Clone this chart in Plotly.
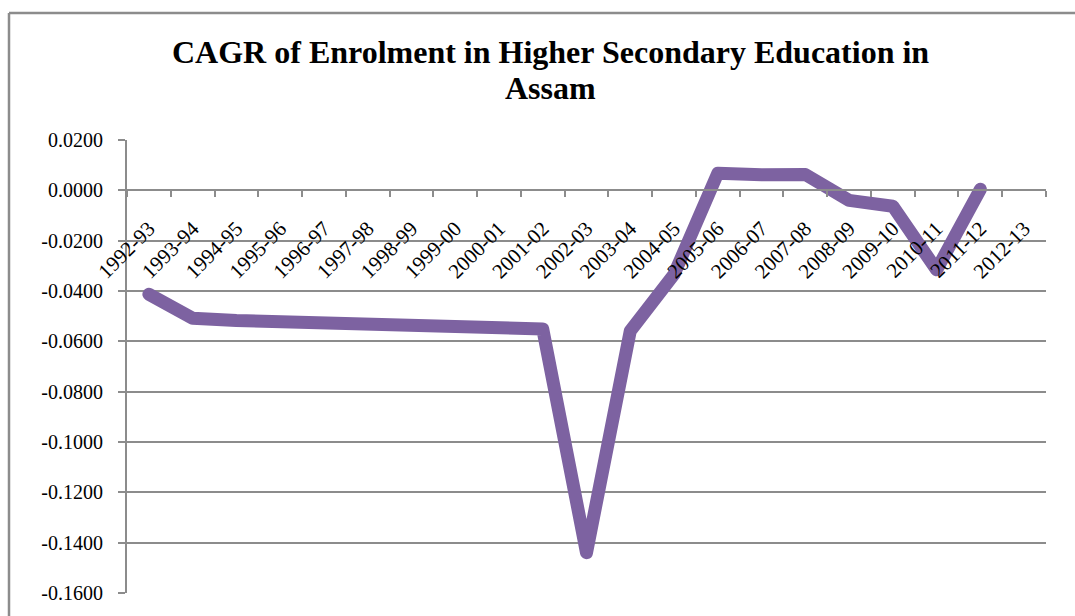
import plotly.graph_objects as go

years = ["1992-93", "1993-94", "1994-95", "1995-96", "1996-97", "1997-98", "1998-99",
         "1999-00", "2000-01", "2001-02", "2002-03", "2003-04", "2004-05", "2005-06",
         "2006-07", "2007-08", "2008-09", "2009-10", "2010-11", "2011-12", "2012-13"]
cagr = [-0.0413, -0.0508, -0.0517, -0.0523, -0.0528, -0.0533, -0.0536,
        -0.0540, -0.0545, -0.0551, -0.1440, -0.0559, -0.0334, 0.0068,
        0.0062, 0.0063, -0.0040, -0.0063, -0.0316, 0.0004, None]
y_tick_vals = [0.02, 0.0, -0.02, -0.04, -0.06, -0.08, -0.10, -0.12, -0.14, -0.16]
y_tick_text = ["0.0200", "0.0000", "-0.0200", "-0.0400", "-0.0600", "-0.0800",
               "-0.1000", "-0.1200", "-0.1400", "-0.1600"]
title_lines = ["CAGR of Enrolment in Higher Secondary Education in", "Assam"]

grid = "#8c8c8c"
serif = "Liberation Serif, Times New Roman, serif"

# plot area in pixels (for placing decorations in paper coordinates)
PL, PR, PT, PB = 127, 1046, 140, 595
def px_x(x):
    return (x - PL) / (PR - PL)
def px_y(y):
    return (PB - y) / (PB - PT)

y_min, y_max = -0.16, 0.02
zero_pos = (0 - y_min) / (y_max - y_min)
label_drop = 21 / (PB - PT)

fig = go.Figure()
fig.add_trace(go.Scatter(
    x=years, y=cagr, mode="lines",
    line=dict(color="#7d62a1", width=13),
    connectgaps=False, showlegend=False, hoverinfo="x+y"))
# invisible twin on the tick-mark axis (crossing at zero)
fig.add_trace(go.Scatter(
    x=years, y=cagr, mode="lines", xaxis="x2",
    line=dict(color="rgba(0,0,0,0)", width=0),
    showlegend=False, hoverinfo="skip"))

fig.update_layout(
    width=1075, height=616,
    margin=dict(l=PL, r=1075 - PR, t=PT, b=616 - PB),
    paper_bgcolor="white", plot_bgcolor="white",
    font=dict(family=serif, color="black"),
    xaxis=dict(
        type="category", categoryorder="array", categoryarray=years,
        range=[-0.5, len(years) - 0.5],
        anchor="free", position=zero_pos - label_drop,
        showgrid=False, showline=False, ticks="",
        tickangle=-45,
        tickfont=dict(family=serif, size=21, color="black"),
        zeroline=False),
    xaxis2=dict(
        type="category", categoryorder="array", categoryarray=years,
        range=[-0.5, len(years) - 0.5], overlaying="x",
        anchor="free", position=zero_pos, side="bottom",
        showgrid=False, showline=True, linecolor=grid, linewidth=2,
        ticks="outside", ticklen=6, tickcolor=grid, tickwidth=2,
        tickson="boundaries", showticklabels=False, zeroline=False),
    yaxis=dict(
        range=[y_min, y_max], tickvals=y_tick_vals, ticktext=y_tick_text,
        showgrid=True, gridcolor=grid, gridwidth=2,
        showline=True, linecolor=grid, linewidth=2,
        ticks="outside", ticklen=7, tickcolor=grid, tickwidth=2,
        ticklabelstandoff=11,
        tickfont=dict(family=serif, size=20, color="black"),
        zeroline=False),
    annotations=[
        dict(text="<b>" + title_lines[0] + "</b>", xref="paper", yref="paper",
             x=px_x(550), y=px_y(52), xanchor="center", yanchor="middle",
             showarrow=False, font=dict(family=serif, size=32, color="black")),
        dict(text="<b>" + title_lines[1] + "</b>", xref="paper", yref="paper",
             x=px_x(550), y=px_y(88), xanchor="center", yanchor="middle",
             showarrow=False, font=dict(family=serif, size=32, color="black")),
    ],
    shapes=[
        dict(type="line", xref="paper", yref="paper",
             x0=px_x(9), x1=px_x(1080), y0=px_y(12.5), y1=px_y(12.5),
             line=dict(color=grid, width=2.5)),
        dict(type="line", xref="paper", yref="paper",
             x0=px_x(9), x1=px_x(9), y0=px_y(12.5), y1=px_y(620),
             line=dict(color=grid, width=2.5)),
    ],
)

post = """
function roundJoins(){
  document.querySelectorAll('.scatterlayer path.js-line').forEach(function(p){
    p.style.strokeLinejoin = 'round';
    p.style.strokeLinecap = 'round';
  });
}
roundJoins();
setTimeout(roundJoins, 50);
setTimeout(roundJoins, 300);
"""
fig.write_html("out.html", post_script=post)
